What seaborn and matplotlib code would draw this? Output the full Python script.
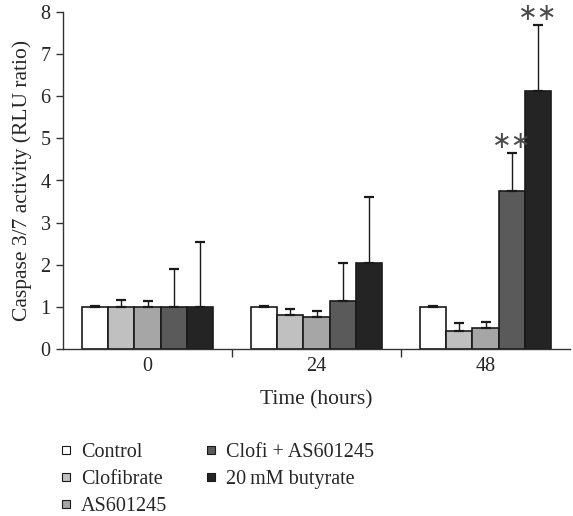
import numpy as np
import pandas as pd
import matplotlib
matplotlib.use("Agg")
import matplotlib.pyplot as plt
import seaborn as sns
from matplotlib.lines import Line2D

times = ["0", "24", "48"]
treatments = ["Control", "Clofibrate", "AS601245", "Clofi + AS601245", "20\u2009mM butyrate"]
means = {
    "Control":          [1.00, 1.00, 1.00],
    "Clofibrate":       [1.00, 0.80, 0.43],
    "AS601245":         [1.00, 0.76, 0.50],
    "Clofi + AS601245": [1.00, 1.14, 3.75],
    "20\u2009mM butyrate":   [1.00, 2.04, 6.13],
}
errors = {
    "Control":          [0.01, 0.01, 0.01],
    "Clofibrate":       [0.16, 0.16, 0.18],
    "AS601245":         [0.15, 0.15, 0.15],
    "Clofi + AS601245": [0.90, 0.89, 0.90],
    "20\u2009mM butyrate":   [1.55, 1.57, 1.57],
}
colors = ["#ffffff", "#c0c0c0", "#a6a6a6", "#5a5a5a", "#242424"]
stars = {("Clofi + AS601245", "48"): "\u2217\u2217", ("20\u2009mM butyrate", "48"): "\u2217\u2217"}

rows = []
for t in treatments:
    for i, tm in enumerate(times):
        rows.append({"time": tm, "treatment": t, "value": means[t][i], "err": errors[t][i]})
df = pd.DataFrame(rows)

sns.set_style("white")
plt.rcParams["font.family"] = ["Liberation Serif", "DejaVu Serif"]
plt.rcParams["font.size"] = 14.5

fig = plt.figure(figsize=(5.73, 5.16), dpi=100)
ax = fig.add_axes([63/573, 1-349/516, (570-63)/573, (349-12)/516])

sns.barplot(data=df, x="time", y="value", hue="treatment", order=times,
            hue_order=treatments, palette=colors, edgecolor="#1a1a1a",
            linewidth=1.2, width=0.77, errorbar=None, legend=False, ax=ax,
            saturation=1)

# error bars (upper only)
patches = [p for p in ax.patches if p.get_width() > 0]
k = 0
for t in treatments:
    for i, tm in enumerate(times):
        p = patches[k]; k += 1
        xc = p.get_x() + p.get_width() / 2
        y = p.get_height()
        e = errors[t][i]
        ax.errorbar([xc], [y], yerr=[[0], [e]], fmt="none", ecolor="#1a1a1a",
                    elinewidth=1.0, capsize=3.5, capthick=1.6)
        if (t, tm) in stars:
            ax.annotate(stars[(t, tm)], (xc, y + e), xytext=(0, 8.5),
                        textcoords="offset points", ha="center", va="center",
                        fontsize=17, color="#4a4a4a", family=["DejaVu Sans"],
                        annotation_clip=False)

ax.set_xlim(-0.5, 2.5)
ax.set_ylim(0, 8)
ax.set_yticks(range(0, 9))
ax.set_xticks([0, 1, 2])
ax.set_xticks([0.5, 1.5], minor=True)
ax.tick_params(axis="x", which="major", length=0, pad=6)
ax.tick_params(axis="x", which="minor", length=6, direction="out", width=1, color="#333333", bottom=True)
ax.tick_params(axis="y", length=5, direction="out", width=1, color="#333333", left=True,
               labelsize=14.5, pad=4)
ax.tick_params(axis="x", labelsize=14.5)
for s in ["top", "right"]:
    ax.spines[s].set_visible(False)
for s in ["left", "bottom"]:
    ax.spines[s].set_color("#333333")
    ax.spines[s].set_linewidth(1.0)
ax.set_xlabel("Time (hours)", fontsize=15.5, labelpad=10)
ax.set_ylabel("Caspase 3/7 activity (RLU ratio)", fontsize=15.5, labelpad=6)

handles = [Line2D([0], [0], marker="s", linestyle="none", markersize=5.5,
                  markerfacecolor=c, markeredgecolor="#1a1a1a", markeredgewidth=0.8)
           for c in colors]
fig.legend(handles, treatments, ncol=2, frameon=False, fontsize=14.5,
           loc="upper left", bbox_to_anchor=(42/573, 1-429/516),
           handletextpad=0.25, columnspacing=1.65, labelspacing=0.38, handlelength=1.0,
           borderpad=0.2)

fig.savefig("out.png", dpi=100)
